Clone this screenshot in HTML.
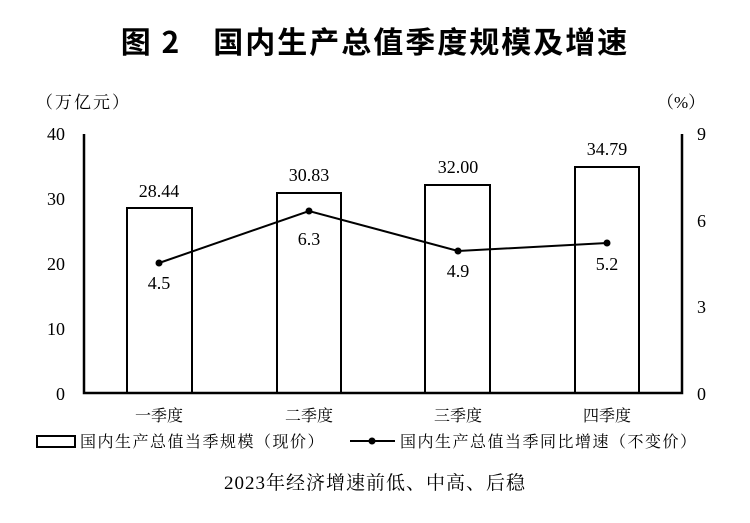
<!DOCTYPE html>
<html><head><meta charset="utf-8"><style>body{margin:0;background:#fff}</style></head><body>
<svg width="750" height="523" xmlns="http://www.w3.org/2000/svg" style="display:block">
<rect width="750" height="523" fill="#fff"/>
<text x="375" y="53" text-anchor="middle" font-family="'Noto Sans CJK SC',sans-serif" font-weight="bold" font-size="30" letter-spacing="2" fill="#000">图 2　国内生产总值季度规模及增速</text>
<g font-family="'Liberation Serif','Noto Serif CJK SC',serif" font-size="18" fill="#000">
<text x="36" y="108" font-size="17" letter-spacing="2">（万亿元）</text>
<text x="657" y="108" font-size="17">（%）</text>
<g text-anchor="end"><text x="65" y="140">40</text><text x="65" y="205">30</text><text x="65" y="270">20</text><text x="65" y="335">10</text><text x="65" y="400">0</text></g>
<g><text x="697" y="140">9</text><text x="697" y="227">6</text><text x="697" y="313">3</text><text x="697" y="400">0</text></g>
</g>
<g fill="#fff" stroke="#000" stroke-width="2">
<rect x="127" y="208" width="65" height="185"/>
<rect x="277" y="193" width="64" height="200"/>
<rect x="425" y="185" width="65" height="208"/>
<rect x="575" y="167" width="64" height="226"/>
</g>
<path d="M84 134V393H682V134" fill="none" stroke="#000" stroke-width="2.5"/>
<polyline points="159,263 309,211 458,251 607,243" fill="none" stroke="#000" stroke-width="2"/>
<g fill="#000"><circle cx="159" cy="263" r="3.5"/><circle cx="309" cy="211" r="3.5"/><circle cx="458" cy="251" r="3.5"/><circle cx="607" cy="243" r="3.5"/></g>
<g font-family="'Liberation Serif',serif" font-size="18" text-anchor="middle" fill="#000">
<text x="159" y="197">28.44</text><text x="309" y="181">30.83</text><text x="458" y="173">32.00</text><text x="607" y="155">34.79</text>
<text x="159" y="289">4.5</text><text x="309" y="245">6.3</text><text x="458" y="277">4.9</text><text x="607" y="270">5.2</text>
</g>
<g font-family="'Noto Serif CJK SC',serif" font-size="16" text-anchor="middle" fill="#000">
<text x="159" y="421">一季度</text><text x="309" y="421">二季度</text><text x="458" y="421">三季度</text><text x="607" y="421">四季度</text>
</g>
<rect x="37" y="436" width="38" height="11" fill="#fff" stroke="#000" stroke-width="2"/>
<text x="80" y="447" font-family="'Noto Serif CJK SC',serif" font-size="16" letter-spacing="1.5">国内生产总值当季规模（现价）</text>
<line x1="350" y1="441" x2="395" y2="441" stroke="#000" stroke-width="2"/><circle cx="372" cy="441" r="3.5"/>
<text x="400" y="447" font-family="'Noto Serif CJK SC',serif" font-size="16" letter-spacing="1.5">国内生产总值当季同比增速（不变价）</text>
<text x="375" y="489" text-anchor="middle" font-family="'Liberation Serif','Noto Serif CJK SC',serif" font-size="19" letter-spacing="1">2023年经济增速前低、中高、后稳</text>
</svg>
</body></html>
